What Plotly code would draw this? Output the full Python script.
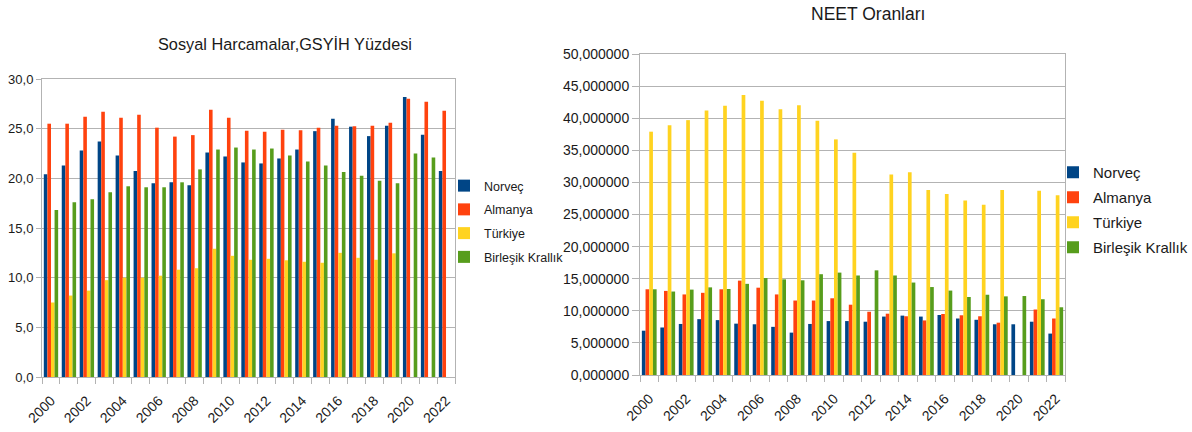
import plotly.graph_objects as go

years = list(range(2000, 2023))
countries = ["Norveç", "Almanya", "Türkiye", "Birleşik Krallık"]
colors = ["#004586", "#ff420e", "#ffd320", "#579d1c"]

# Sosyal harcamalar, GSYİH yüzdesi
sosyal_norvec = [20.4, 21.3, 22.8, 23.7, 22.3, 20.75, 19.5, 19.6, 19.3, 22.6, 22.2, 21.6,
                 21.5, 22.0, 22.9, 24.75, 26.0, 25.2, 24.25, 25.3, 28.2, 24.4, 20.75]
sosyal_almanya = [25.5, 25.5, 26.2, 26.7, 26.1, 26.4, 25.1, 24.2, 24.35, 26.9, 26.1, 24.8,
                  24.7, 24.9, 24.85, 25.1, 25.3, 25.25, 25.3, 25.6, 28.0, 27.7, 26.8]
sosyal_turkiye = [7.5, 8.2, 8.7, 9.75, 10.0, 10.0, 10.2, 10.8, 10.95, 12.9, 12.2, 11.8,
                  11.9, 11.75, 11.6, 11.5, 12.5, 12.0, 11.8, 12.45, None, None, None]
sosyal_bk = [16.8, 17.6, 17.9, 18.6, 19.2, 19.1, 19.1, 19.6, 20.9, 22.9, 23.1, 22.9,
             23.0, 22.3, 21.7, 21.3, 20.65, 20.25, 19.75, 19.5, 22.5, 22.1, None]

# NEET oranları
neet_norvec = [6.9, 7.4, 7.95, 8.7, 8.55, 8.0, 7.9, 7.5, 6.6, 7.95, 8.4, 8.4,
               8.3, 9.1, 9.25, 9.1, 9.35, 8.8, 8.6, 7.9, 7.9, 8.3, 6.45]
neet_almanya = [13.35, 13.1, 12.55, 12.8, 13.35, 14.7, 13.6, 12.55, 11.6, 11.6, 11.95, 10.95,
                9.85, 9.55, 9.15, 8.5, 9.5, 9.3, 9.15, 8.15, None, 10.2, 8.8]
neet_turkiye = [37.9, 38.9, 39.7, 41.2, 41.95, 43.6, 42.7, 41.4, 42.0, 39.6, 36.7, 34.6,
                None, 31.25, 31.6, 28.8, 28.2, 27.2, 26.5, 28.8, None, 28.7, 28.0]
neet_bk = [13.35, 13.0, 13.3, 13.65, 13.4, 14.2, 15.1, 14.9, 14.75, 15.7, 15.95, 15.5,
           16.3, 15.5, 14.4, 13.7, 13.15, 12.15, 12.5, 12.25, 12.3, 11.8, 10.55]

label_years = list(range(2000, 2023, 2))
left_ticks = [0, 5, 10, 15, 20, 25, 30]
right_ticks = [0, 5, 10, 15, 20, 25, 30, 35, 40, 45, 50]

FONT = "Liberation Sans, Arial, sans-serif"
TEXT = "#1a1a1a"
GRID = "#b3b3b3"
W, H = 1192, 432

fig = go.Figure()

left_series = [sosyal_norvec, sosyal_almanya, sosyal_turkiye, sosyal_bk]
right_series = [neet_norvec, neet_almanya, neet_turkiye, neet_bk]

for i, (name, col, vals) in enumerate(zip(countries, colors, left_series)):
    fig.add_trace(go.Bar(x=years, y=vals, name=name, marker_color=col,
                         marker_line_width=0, xaxis="x", yaxis="y",
                         legend="legend", legendgroup=f"sol{i}",
                         offsetgroup=f"sol{i}"))
for i, (name, col, vals) in enumerate(zip(countries, colors, right_series)):
    fig.add_trace(go.Bar(x=years, y=vals, name=name, marker_color=col,
                         marker_line_width=0, xaxis="x2", yaxis="y2",
                         legend="legend2", legendgroup=f"sag{i}",
                         offsetgroup=f"sag{i}"))

def xaxis_cfg(domain, anchor, size):
    return dict(
        domain=domain, anchor=anchor, range=[1999.5, 2022.5], automargin=False,
        tickmode="array", tickvals=label_years, ticktext=[str(y) for y in label_years],
        tickangle=-45, ticks="", ticklabelstandoff=9, showgrid=False, zeroline=False,
        showline=True, linecolor=GRID, linewidth=1, mirror=True,
        tickfont=dict(family=FONT, size=size, color=TEXT),
        minor=dict(tickmode="array", tickvals=[y - 0.5 for y in range(2000, 2024)],
                   ticks="outside", ticklen=6, tickcolor=GRID, showgrid=False),
    )

def yaxis_cfg(domain, anchor, rng, vals, fmt, size, ticklen):
    return dict(
        domain=domain, anchor=anchor, range=rng, automargin=False,
        tickmode="array", tickvals=vals, tickformat=fmt,
        ticks="outside", ticklen=ticklen, tickcolor=GRID,
        showgrid=True, gridcolor=GRID, gridwidth=1, zeroline=False,
        showline=True, linecolor=GRID, linewidth=1, mirror=True,
        tickfont=dict(family=FONT, size=size, color=TEXT),
    )

fig.update_layout(
    width=W, height=H,
    margin=dict(l=0, r=0, t=0, b=0, autoexpand=False),
    paper_bgcolor="white", plot_bgcolor="white",
    separators=",.",
    barmode="group", bargap=0.2, bargroupgap=0,
    font=dict(family=FONT, color=TEXT),
    xaxis=xaxis_cfg([42 / W, 455 / W], "y", 14),
    yaxis=yaxis_cfg([1 - 377 / H, 1 - 79 / H], "x", [0, 30], left_ticks, ".1f", 13, 5),
    xaxis2=xaxis_cfg([640 / W, 1065 / W], "y2", 14),
    yaxis2=yaxis_cfg([1 - 375 / H, 1 - 54 / H], "x2", [0, 50], right_ticks, ".6f", 14, 7),
    legend=dict(x=444 / W, y=1 - 171 / H, xanchor="left", yanchor="top",
                bgcolor="rgba(0,0,0,0)", font=dict(family=FONT, size=12.5, color=TEXT),
                tracegroupgap=4.5, itemwidth=30),
    legend2=dict(x=1053 / W, y=1 - 156 / H, xanchor="left", yanchor="top",
                 bgcolor="rgba(0,0,0,0)", font=dict(family=FONT, size=15, color=TEXT),
                 tracegroupgap=2.5, itemwidth=30),
    annotations=[
        dict(text="Sosyal Harcamalar,GSYİH Yüzdesi", x=285 / W, y=1 - 44 / H,
             xref="paper", yref="paper", showarrow=False, xanchor="center", yanchor="middle",
             font=dict(family=FONT, size=16.3, color=TEXT)),
        dict(text="NEET Oranları", x=868 / W, y=1 - 14 / H,
             xref="paper", yref="paper", showarrow=False, xanchor="center", yanchor="middle",
             font=dict(family=FONT, size=17.5, color=TEXT)),
    ],
)

fig.write_html("out.html")
